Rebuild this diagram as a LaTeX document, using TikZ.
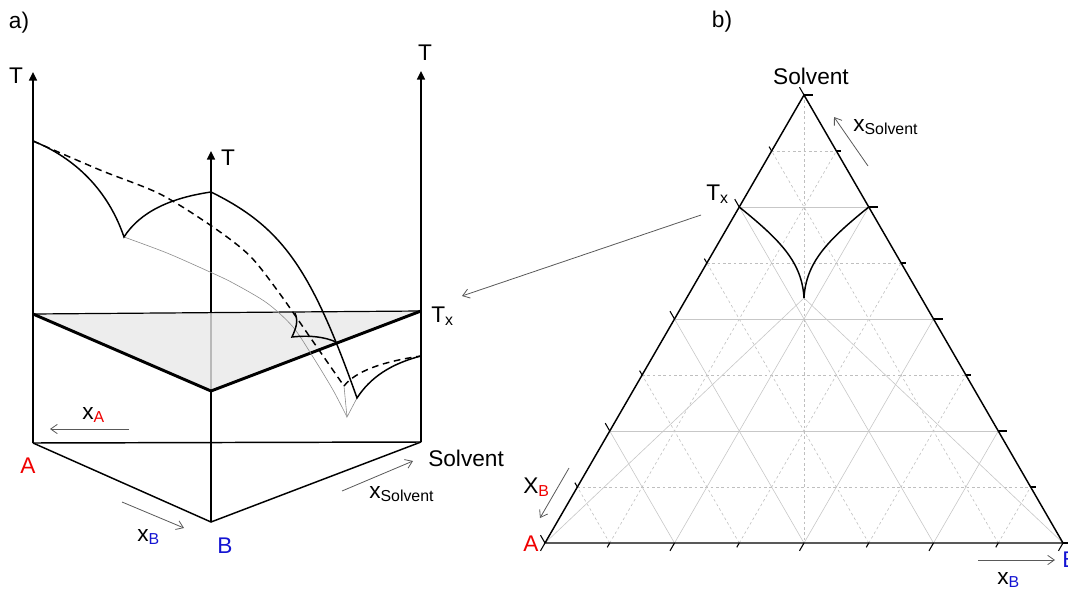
\documentclass[tikz,border=0pt]{standalone}
\usepackage{fontspec}
\setmainfont{Liberation Sans}
\usepackage{xcolor}
\usetikzlibrary{arrows.meta,calc}

\definecolor{compA}{RGB}{240,0,0}
\definecolor{compB}{RGB}{20,20,210}

\begin{document}
\begin{tikzpicture}[
  x=0.75pt, y=-0.75pt,
  lbl/.style={font=\fontsize{17}{20}\selectfont, inner sep=0pt},
  taxis/.style={line width=1.1pt, -{Triangle[length=6.5pt,width=6pt]}},
  bedge/.style={line width=1.1pt},
  frontln/.style={line width=2.2pt, line join=miter},
  liq/.style={line width=1.1pt},
  liqdash/.style={line width=1.1pt, dash pattern=on 5pt off 3.5pt},
  valley/.style={line width=0.45pt, black!45},
  dir/.style={line width=0.6pt, black!65, -{Straight Barb[length=5pt,width=7pt]}},
  gridln/.style={line width=0.45pt, black!22},
  gridds/.style={line width=0.45pt, black!25, dash pattern=on 2pt off 2pt},
  tmark/.style={line width=0.8pt}
]
\useasboundingbox (0,0) rectangle (1068,589);

% a) prism
\coordinate (A0) at (33,443);
\coordinate (B0) at (211,522);
\coordinate (S0) at (421,442);
\coordinate (Atop) at (33,72);
\coordinate (Btop) at (211,151);
\coordinate (Stop) at (421,71);
\coordinate (PA) at (33,314);
\coordinate (PB) at (211,391);
\coordinate (PS) at (421,311);
\coordinate (mA) at (33,141);
\coordinate (mB) at (211,192);
\coordinate (mS) at (421,356);
\coordinate (eAB) at (124,237);
\coordinate (eAS) at (344,386);
\coordinate (eBS) at (357,398);
\coordinate (eT) at (347,417);

\draw[bedge] (A0) -- (S0);
\draw[bedge] (A0) -- (B0) -- (S0);
\draw[taxis] (A0) -- (Atop);
\draw[taxis] (B0) -- (Btop);
\draw[taxis] (S0) -- (Stop);
\fill[black!9, fill opacity=0.8] (PA) -- (PB) -- (PS) -- cycle;
\draw[line width=0.9pt] (PA) -- (PS);
\draw[frontln] (PA) -- (PB) -- (PS);

\draw[valley] plot[smooth] coordinates {(124,237) (167,253) (210,272) (233,283) (267,303) (293,327) (313,357) (333,390) (347,417)};
\draw[valley] (eAS) -- (eT) -- (eBS);
\draw[liq] (mA) .. controls (75,158) and (108,190) .. (eAB) .. controls (140,212) and (170,198) .. (mB);
\draw[liq] (mB) .. controls (282,227) and (311,268) .. (eBS) .. controls (370,378) and (390,364) .. (mS);
\draw[liqdash] plot[smooth] coordinates {(33,141) (100,170) (160,194) (213,227) (250,256) (280,294) (312,340) (344,386)};
\draw[liqdash] (eAS) .. controls (355,372) and (380,362) .. (mS);
\draw[liq] (295,313) .. controls (299,322) and (295,330) .. (292,337) .. controls (310,335) and (325,337) .. (336,342);

\node[lbl] (alabel) at (19,23) {a)};
\node[lbl] (TA) at (16,76) {T};
\node[lbl] (TB) at (228,158) {T};
\node[lbl] (TS) at (425,53) {T};
\node[lbl, anchor=west] (Txa) at (431,316) {T\textsubscript{x}};
\node[lbl, text=compA] (Aa) at (28,466) {A};
\node[lbl, text=compB] (Ba) at (225,546) {B};
\node[lbl, anchor=west] (Sa) at (428,458) {Solvent};
\node[lbl, anchor=west] (xAa) at (82,415) {x\textsubscript{\color{compA}A}};
\node[lbl, anchor=west] (xBa) at (137,537) {x\textsubscript{\color{compB}B}};
\node[lbl, anchor=west] (xSa) at (369,494) {x\textsubscript{Solvent}};
\coordinate (xAfrom) at (129,429);
\coordinate (xAto) at (50,429);
\coordinate (xBfrom) at (122,502);
\coordinate (xBto) at (184,528);
\coordinate (xSfrom) at (342,491);
\coordinate (xSto) at (413,461);
\draw[dir] (xAfrom) -- (xAto);
\draw[dir] (xBfrom) -- (xBto);
\draw[dir] (xSfrom) -- (xSto);

% b) ternary projection
\coordinate (A) at (545,543);
\coordinate (B) at (1063,543);
\coordinate (S) at (804,95);
\coordinate (cusp) at (804,298);
\coordinate (Tl) at ($(A)!0.75!(S)$);
\coordinate (Tr) at ($(B)!0.75!(S)$);

\foreach \k in {1,3,5,7}{
  \draw[gridds] ($(A)!\k/8!(S)$) -- ($(B)!\k/8!(S)$);
  \draw[gridds] ($(A)!\k/8!(B)$) -- ($(S)!\k/8!(B)$);
  \draw[gridds] ($(B)!\k/8!(A)$) -- ($(S)!\k/8!(A)$);
}
\foreach \k in {2,4,6}{
  \draw[gridln] ($(A)!\k/8!(S)$) -- ($(B)!\k/8!(S)$);
  \draw[gridln] ($(A)!\k/8!(B)$) -- ($(S)!\k/8!(B)$);
  \draw[gridln] ($(B)!\k/8!(A)$) -- ($(S)!\k/8!(A)$);
}
\draw[gridds] (S) -- ($(A)!0.5!(B)$);
\draw[gridln] (A) -- (cusp) -- (B);

\draw[bedge] (A) -- (B) -- (S) -- cycle;
\foreach \k in {0,...,8}{
  \pgfmathsetmacro\tl{mod(\k,2)==0 ? 9 : 5}
  \draw[tmark] ($(A)!\k/8!(S)$) -- ++(-0.5*\tl,-0.866*\tl);
  \draw[tmark] ($(A)!\k/8!(B)$) -- ++(-0.5*\tl,0.866*\tl);
  \draw[tmark] ($(B)!\k/8!(S)$) -- ++(\tl,0);
}
\draw[liq] (Tl) .. controls (780,240) and (802,262) .. (cusp);
\draw[liq] (Tr) .. controls (828,240) and (806,262) .. (cusp);

\node[lbl] (blabel) at (722,22) {b)};
\node[lbl] (Sb) at (811,76) {Solvent};
\node[lbl, anchor=west] (xSb) at (853,127) {x\textsubscript{Solvent}};
\node[lbl, anchor=west] (Txb) at (706,194) {T\textsubscript{x}};
\node[lbl, anchor=west] (XBb) at (523,487) {X\textsubscript{\color{compA}B}};
\node[lbl, text=compA] (Ab) at (531,544) {A};
\node[lbl, text=compB, anchor=west] (Bb) at (1062,560) {B};
\node[lbl, anchor=west] (xBb) at (997,580) {x\textsubscript{\color{compB}B}};
\coordinate (xSbfrom) at (868,166);
\coordinate (xSbto) at (834,117);
\coordinate (XBbfrom) at (569,468);
\coordinate (XBbto) at (540,518);
\coordinate (xBbfrom) at (978,560);
\coordinate (xBbto) at (1055,560);
\coordinate (Txfrom) at (701,215);
\coordinate (Txto) at (462,296);
\draw[dir] (xSbfrom) -- (xSbto);
\draw[dir] (XBbfrom) -- (XBbto);
\draw[dir] (xBbfrom) -- (xBbto);
\draw[dir] (Txfrom) -- (Txto);
\end{tikzpicture}
\end{document}
